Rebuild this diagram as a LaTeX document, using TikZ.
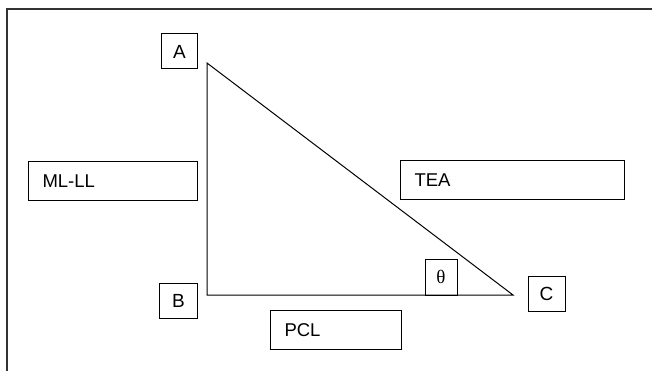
\documentclass[tikz,border=0pt]{standalone}
\usepackage{fontspec}
\setmainfont{Liberation Sans}
\newfontfamily\thetafont{Liberation Serif}
\begin{document}
\begin{tikzpicture}[x=1pt,y=-1pt,
  letterbox/.style={draw=black,line width=1pt,minimum width=36pt,minimum height=35pt,inner sep=0pt,font=\fontsize{19}{22}\selectfont},
  labelbox/.style={draw=black,line width=1pt,anchor=north west,inner xsep=14pt,inner ysep=0pt,minimum height=39pt,align=left,font=\fontsize{18.5}{22}\selectfont},
  frameline/.style={draw=black!80,line width=1.5pt},
  tri/.style={draw=black,line width=1pt}]
\useasboundingbox (0,0) rectangle (652,371);
\clip (0,0) rectangle (652,371);
\draw[frameline] (7,400) -- (7,9) -- (700,9);
\coordinate (A) at (207,63);
\coordinate (B) at (207,295);
\coordinate (C) at (513,295);
\draw[tri] (A) -- (B) -- (C) -- cycle;
\node[letterbox] (la) at (179.5,51.5) {A};
\node[letterbox,minimum width=38pt] (lb) at (178.5,300.5) {B};
\node[letterbox,minimum width=37pt] (lc) at (546.5,293.5) {C};
\node[letterbox,minimum width=32pt,minimum height=36pt,font=\thetafont\fontsize{19}{22}\selectfont] (th) at (441,277) {θ};
\node[labelbox,text width=141pt] (ml) at (28,161) {ML-LL};
\node[labelbox,text width=196pt] (tea) at (400,160) {TEA};
\node[labelbox,text width=103pt] (pcl) at (270,310) {PCL};
\end{tikzpicture}
\end{document}
